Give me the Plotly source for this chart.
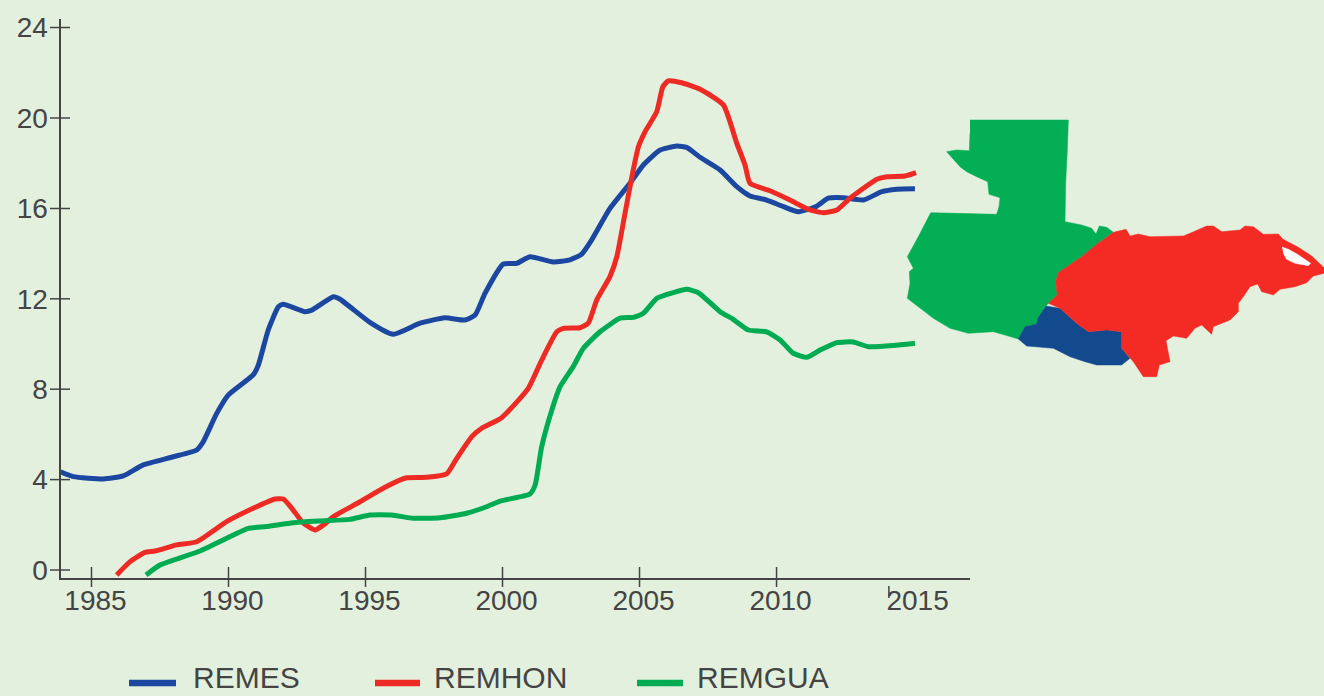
import plotly.graph_objects as go

REMES_YEARS = [1983.87,1984.34,1985.43,1986.16,1986.89,1987.99,1988.84,1989.08,1989.57,1989.99,1990.9,1991.09,1991.45,1991.82,1992.0,1992.79,1993.04,1993.83,1994.07,1995.16,1996.01,1996.99,1997.9,1998.63,1999.0,1999.36,2000.03,2000.52,2001.0,2001.85,2002.46,2002.89,2003.25,2003.92,2004.65,2005.14,2005.75,2006.36,2006.72,2007.21,2007.94,2008.55,2009.03,2009.64,2010.25,2010.8,2011.47,2011.89,2012.44,2013.17,2013.84,2014.39,2015.05]
REMES = [4.35,4.13,4.03,4.16,4.65,5.01,5.31,5.68,6.93,7.74,8.63,9.07,10.62,11.65,11.76,11.43,11.5,12.09,11.98,10.96,10.43,10.92,11.16,11.06,11.28,12.24,13.54,13.57,13.86,13.63,13.72,13.98,14.6,16.0,17.11,17.92,18.58,18.76,18.7,18.26,17.7,16.96,16.55,16.37,16.08,15.85,16.1,16.45,16.47,16.37,16.74,16.85,16.87]

REMHON_YEARS = [1985.92,1986.41,1986.95,1987.32,1988.11,1988.84,1989.93,1990.9,1991.7,1992.0,1992.31,1992.73,1993.16,1993.46,1993.83,1994.8,1995.71,1996.5,1997.23,1997.96,1998.33,1998.88,1999.24,1999.97,2000.94,2001.43,2001.98,2002.22,2002.83,2003.13,2003.44,2003.92,2004.17,2004.47,2004.77,2004.96,2005.2,2005.63,2005.85,2006.05,2006.54,2007.21,2008.06,2008.55,2008.85,2009.03,2009.76,2010.49,2011.22,2011.71,2012.2,2012.68,2013.66,2014.02,2014.69,2015.09]
REMHON = [-0.22,0.37,0.78,0.84,1.11,1.25,2.14,2.73,3.14,3.14,2.73,2.07,1.77,1.99,2.36,3.02,3.66,4.08,4.1,4.25,4.94,5.9,6.27,6.74,8.04,9.29,10.54,10.69,10.72,10.92,11.95,12.98,13.86,15.78,17.7,18.73,19.39,20.28,21.38,21.64,21.56,21.27,20.58,18.88,17.92,17.11,16.78,16.37,15.93,15.81,15.93,16.45,17.29,17.4,17.43,17.58]

REMGUA_YEARS = [1986.99,1987.5,1988.96,1989.93,1990.72,1991.39,1992.36,1993.34,1994.43,1995.16,1995.96,1996.74,1997.72,1998.69,1999.42,1999.91,2001.0,2001.19,2001.43,2001.8,2002.1,2002.58,2002.95,2003.56,2004.29,2004.77,2005.14,2005.63,2006.23,2006.72,2007.15,2007.94,2008.42,2008.97,2009.64,2010.13,2010.61,2011.1,2011.59,2012.2,2012.8,2013.35,2014.26,2015.05]
REMGUA = [-0.22,0.22,0.84,1.4,1.84,1.92,2.09,2.17,2.24,2.43,2.43,2.29,2.31,2.51,2.8,3.05,3.36,3.76,5.46,7.08,8.11,9.0,9.81,10.54,11.14,11.18,11.36,12.02,12.27,12.42,12.27,11.43,11.09,10.62,10.54,10.18,9.59,9.41,9.73,10.06,10.09,9.88,9.93,10.03]

SERIES_NAMES = ["REMES", "REMHON", "REMGUA"]
X_LABEL_YEARS = [1985, 1990, 1995, 2000, 2005, 2010, 2015]
X_TICK_YEARS = [1985, 1990, 1995, 2000, 2005, 2010]
Y_LABELS = [0, 4, 8, 12, 16, 20, 24]

# Country outlines in the map's own units
GUATEMALA = [(240,60),(535,60),(532,150),(527,250),(525,365),(575,375),(605,385),(618,402),(628,378),(650,382),(670,397),(630,425),(575,470),(505,518),(497,545),(502,585),(475,610),(468,618),(445,650),(440,672),(405,680),(385,717),(345,705),(310,695),(235,700),(180,685),(130,655),(90,625),(52,595),(60,550),(58,515),(70,505),(52,470),(85,410),(122,338),(200,340),(320,343),(327,320),(330,293),(297,283),(293,245),(260,230),(230,215),(210,200),(170,155),(200,150),(238,152),(240,100)]
HONDURAS = [(670,397),(690,392),(708,388),(720,408),(745,402),(780,410),(830,408),(880,408),(900,400),(950,378),(970,378),(995,395),(1050,390),(1065,378),(1090,380),(1120,403),(1165,402),(1179,418),(1225,442),(1265,468),(1302,503),(1302,520),(1270,528),(1250,548),(1215,560),(1170,568),(1150,585),(1115,575),(1103,552),(1080,560),(1060,590),(1045,610),(1045,635),(1020,660),(970,680),(965,703),(935,675),(915,685),(890,715),(850,708),(828,722),(840,785),(808,795),(800,830),(760,830),(730,785),(695,745),(695,695),(650,690),(595,695),(560,670),(510,625),(475,610),(502,585),(497,545),(505,518),(575,470),(630,425)]
LAGOON = [(1176,441),(1195,448),(1221,462),(1262,490),(1255,497),(1215,490),(1190,478),(1180,460)]
EL_SALVADOR = [(468,618),(510,625),(560,670),(595,695),(650,690),(695,695),(695,745),(720,775),(695,795),(620,795),(585,785),(540,770),(490,745),(410,738),(385,717),(405,680),(440,672),(445,650)]

BG = "#e2f0dd"
BLUE, RED, GREEN = "#1b47a0", "#ee2a24", "#00ab52"
MAP_GREEN, MAP_RED, MAP_BLUE = "#04ae55", "#f42a24", "#134a8e"
INK = "#444444"
W, H = 1324, 696
FONT = "Liberation Sans"

fig = go.Figure()
for name, xs, ys, col in zip(SERIES_NAMES, [REMES_YEARS, REMHON_YEARS, REMGUA_YEARS], [REMES, REMHON, REMGUA], [BLUE, RED, GREEN]):
    fig.add_trace(go.Scatter(x=xs, y=ys, name=name, mode="lines", line=dict(color=col, width=5, shape="spline", smoothing=0.5), cliponaxis=False, showlegend=False))

for outline, col in [(GUATEMALA, MAP_GREEN), (EL_SALVADOR, MAP_BLUE), (HONDURAS, MAP_RED), (LAGOON, "#ffffff")]:
    fig.add_trace(go.Scatter(x=[890 + p[0] / 3 for p in outline], y=[100 + p[1] / 3 for p in outline],
                             xaxis="x2", yaxis="y2", mode="lines", fill="toself", fillcolor=col,
                             line=dict(color=col, width=0.5), showlegend=False, hoverinfo="skip"))

shapes = []
for yr in X_TICK_YEARS:
    shapes.append(dict(type="line", xref="x", yref="y2", x0=yr, x1=yr, y0=567, y1=587, line=dict(color=INK, width=1.5)))
shapes.append(dict(type="line", xref="x", yref="y2", x0=2014.1, x1=2014.1, y0=586, y1=598, line=dict(color=INK, width=1.5)))
for v in Y_LABELS:
    shapes.append(dict(type="line", xref="x2", yref="y", x0=50, x1=70, y0=v, y1=v, line=dict(color=INK, width=1.5)))

annotations = []
for name, col, x0, x1, xt in zip(SERIES_NAMES, [BLUE, RED, GREEN], [129, 375, 637], [176, 420, 683], [192, 433, 696]):
    shapes.append(dict(type="line", xref="x2", yref="y2", x0=x0, x1=x1, y0=683, y1=683, line=dict(color=col, width=6.5)))
    annotations.append(dict(xref="x2", yref="y2", x=xt, y=677, text=name, showarrow=False, xanchor="left", yanchor="middle",
                            font=dict(family=FONT, size=30, color=INK), borderpad=0))

fig.update_layout(
    width=W, height=H, autosize=False, margin=dict(l=0, r=0, t=0, b=0, autoexpand=False),
    paper_bgcolor=BG, plot_bgcolor="rgba(0,0,0,0)", showlegend=False, shapes=shapes, annotations=annotations,
    xaxis=dict(domain=[60.5 / W, 970 / W], range=[1983.869, 2017.06], tickmode="array", tickvals=X_LABEL_YEARS, ticktext=[str(v) for v in X_LABEL_YEARS],
               showgrid=False, zeroline=False, showline=True, linecolor=INK, linewidth=2, ticks="", ticklabelshift=4, ticklabelstandoff=-3,
               tickfont=dict(family=FONT, size=28, color=INK), anchor="y"),
    yaxis=dict(domain=[(H - 577.5) / H, (H - 19) / H], range=[-0.332, 24.38], tickmode="array", tickvals=Y_LABELS, ticktext=[str(v) for v in Y_LABELS],
               showgrid=False, zeroline=False, showline=True, linecolor=INK, linewidth=2, ticks="", ticklabelstandoff=5,
               tickfont=dict(family=FONT, size=28, color=INK), anchor="x"),
    xaxis2=dict(domain=[0, 1], range=[0, W], visible=False, anchor="y2"),
    yaxis2=dict(domain=[0, 1], range=[H, 0], visible=False, anchor="x2"),
)
fig.write_html("out.html", config={"displayModeBar": False},
               post_script="document.body.style.margin='0';document.body.style.background='#e2f0dd';document.documentElement.style.overflow='hidden';")
